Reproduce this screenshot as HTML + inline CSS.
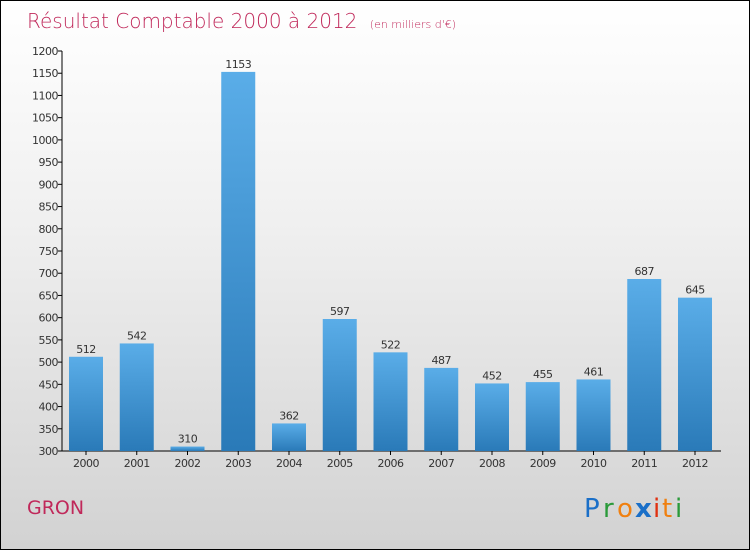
<!DOCTYPE html>
<html><head><meta charset="utf-8"><style>
body{margin:0}
#c{position:relative;width:748px;height:548px;border:1px solid #000;background:linear-gradient(#fff 0%,#f0f0f0 40%,#d2d2d2 100%);font-family:"DejaVu Sans","Liberation Sans",sans-serif;overflow:hidden}
</style></head><body>
<div id="c">
<svg id="s" width="748" height="548">
<text x="26" y="27" font-size="20" fill="#c0285a" font-weight="200">Résultat Comptable 2000 à 2012 <tspan font-size="11" dx="6">(en milliers d'€)</tspan></text>
<text x="26" y="513" font-size="19" fill="#c0285a">GRON</text>
<g font-size="26" font-family="'DejaVu Sans',sans-serif">
<text x="583" y="516" fill="#1a6fc8">P</text><text x="602" y="516" fill="#2a9a3a">r</text><text x="616" y="516" fill="#f08010">o</text><text x="634" y="516" fill="#1a6fc8" font-weight="bold">x</text><text x="652" y="516" fill="#e03010">i</text><text x="661" y="516" fill="#f08010">t</text><text x="674" y="516" fill="#2a9a3a">i</text>
</g>
<defs><linearGradient id="g" x1="0" y1="0" x2="0" y2="1"><stop offset="0" stop-color="#5aade8"/><stop offset="1" stop-color="#2a7ab8"/></linearGradient></defs>
</svg></div>
<script>
const categories=["2000","2001","2002","2003","2004","2005","2006","2007","2008","2009","2010","2011","2012"];
const values=[512,542,310,1153,362,597,522,487,452,455,461,687,645];
const yTicks=[300,350,400,450,500,550,600,650,700,750,800,850,900,950,1000,1050,1100,1150,1200];
const s=document.getElementById('s'),NS="http://www.w3.org/2000/svg";
const y=v=>450-(v-300)*400/900, x=i=>85+i*50.75;
function mk(t,a,txt){const e=document.createElementNS(NS,t);for(const k in a)e.setAttribute(k,a[k]);if(txt!=null)e.textContent=txt;s.appendChild(e);return e;}
let ax=mk('line',{x1:61,y1:50,x2:61,y2:450,stroke:'#000'});


let xa=mk('line',{x1:61,y1:450,x2:720,y2:450,stroke:'#000'});


yTicks.forEach(v=>{
 let t=mk('line',{x1:57,y1:y(v),x2:61,y2:y(v),stroke:'#000'});
 
 
 let l=mk('text',{x:57,y:y(v)+4,'font-size':11,'text-anchor':'end',fill:'#333','letter-spacing':'-0.5'},v);
 
 
});
categories.forEach((c,i)=>{
 let b=mk('rect',{x:x(i)-17,y:y(values[i]),width:34,height:450-y(values[i]),fill:'url(#g)'});
 
 
 let vl=mk('text',{x:x(i),y:y(values[i])-4,'font-size':11,'text-anchor':'middle',fill:'#333','letter-spacing':'-0.5'},values[i]);
 
 
 let t=mk('line',{x1:x(i),y1:450,x2:x(i),y2:454,stroke:'#000'});
 
 
 let xl=mk('text',{x:x(i),y:466,'font-size':11,'text-anchor':'middle',fill:'#333','letter-spacing':'-0.5'},c);
 
 
});
</script>
</body></html>
